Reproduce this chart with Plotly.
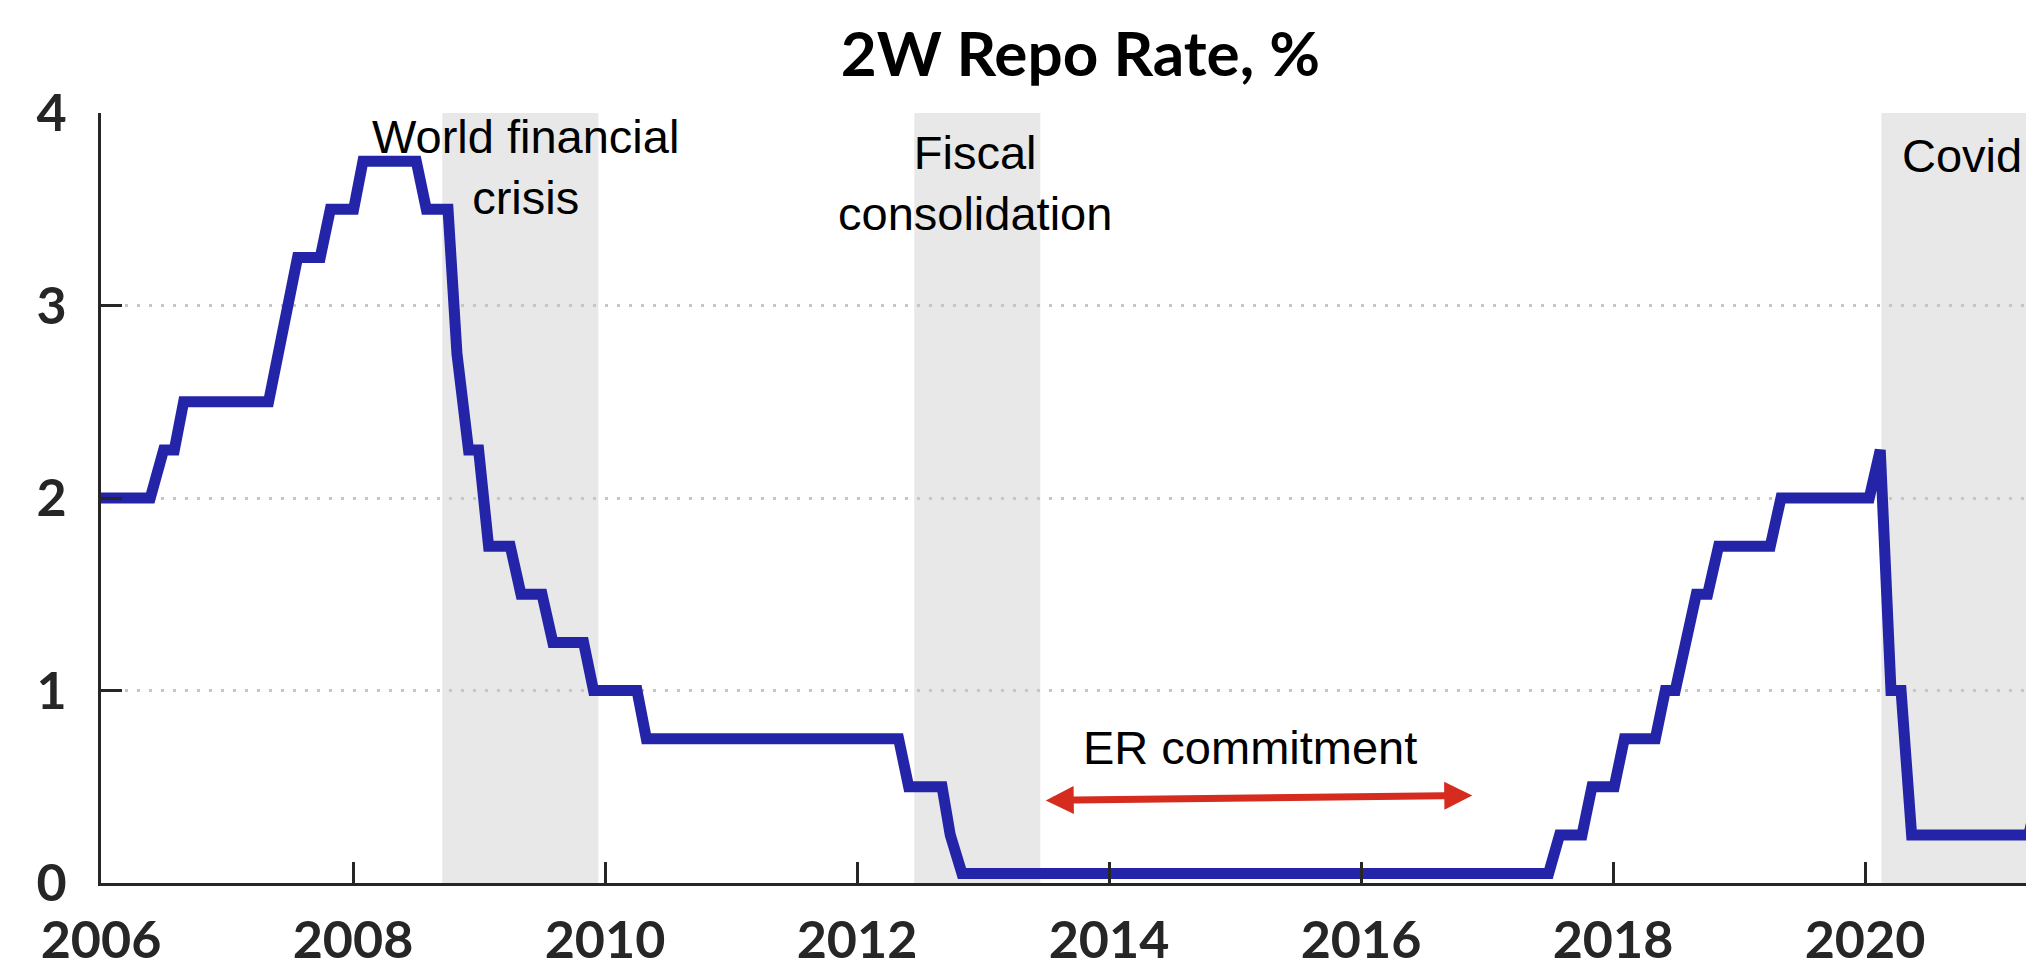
import plotly.graph_objects as go

# ---- data (decimal years, % rate) ----
rate_x = [2006.000, 2006.391, 2006.497, 2006.582, 2006.656, 2007.330, 2007.560, 2007.740,
          2007.820, 2008.005, 2008.079, 2008.502, 2008.582, 2008.754, 2008.825, 2008.917,
          2008.997, 2009.076, 2009.248, 2009.333, 2009.500, 2009.586, 2009.830, 2009.909,
          2010.254, 2010.328, 2012.330, 2012.410, 2012.675, 2012.740, 2012.833, 2017.489,
          2017.576, 2017.754, 2017.833, 2018.010, 2018.090, 2018.336, 2018.415, 2018.494,
          2018.661, 2018.751, 2018.838, 2019.248, 2019.333, 2020.034, 2020.121, 2020.206,
          2020.286, 2020.370, 2021.300, 2021.390]
rate_y = [2.00, 2.00, 2.25, 2.25, 2.50, 2.50, 3.25, 3.25,
          3.50, 3.50, 3.75, 3.75, 3.50, 3.50, 2.75, 2.25,
          2.25, 1.75, 1.75, 1.50, 1.50, 1.25, 1.25, 1.00,
          1.00, 0.75, 0.75, 0.50, 0.50, 0.25, 0.05, 0.05,
          0.25, 0.25, 0.50, 0.50, 0.75, 0.75, 1.00, 1.00,
          1.50, 1.50, 1.75, 1.75, 2.00, 2.00, 2.25, 1.00,
          1.00, 0.25, 0.25, 0.50]

shade_start = [2008.709, 2012.455, 2020.130]
shade_end = [2009.947, 2013.455, 2021.296]

label_text = ["World financial<br>crisis", "Fiscal<br>consolidation", "Covid", "ER commitment"]
label_x = [2009.368, 2012.939, 2020.772, 2015.121]
label_y = [3.72, 3.635, 3.78, 0.705]

arrow_start = (2013.486, 0.429)
arrow_end = (2016.883, 0.455)

x_ticks = [2006, 2008, 2010, 2012, 2014, 2016, 2018, 2020]
y_ticks = [0, 1, 2, 3, 4]

AX = "#262626"
fig = go.Figure()

fig.add_trace(go.Scatter(
    x=rate_x, y=rate_y, mode="lines",
    line=dict(color="#2424A8", width=11),
    hoverinfo="skip", showlegend=False,
))

for s, e in zip(shade_start, shade_end):
    fig.add_shape(type="rect", xref="x", yref="y", x0=s, x1=e, y0=0, y1=4,
                  fillcolor="#E8E8E8", line=dict(width=0), layer="below")

for t, x, y in zip(label_text, label_x, label_y):
    fig.add_annotation(x=x, y=y, xref="x", yref="y", text=t, showarrow=False,
                       xanchor="center", yanchor="middle",
                       font=dict(family="Liberation Sans, Arial", size=47, color="black"))

fig.add_annotation(x=arrow_end[0], y=arrow_end[1], ax=arrow_start[0], ay=arrow_start[1],
                   xref="x", yref="y", axref="x", ayref="y", text="",
                   showarrow=True, arrowside="end+start", arrowhead=2, startarrowhead=2,
                   arrowsize=0.8, startarrowsize=0.8, arrowwidth=7, arrowcolor="#D62B1F",
                   standoff=0, startstandoff=0)

W, H = 2026, 957
fig.update_layout(
    width=W, height=H,
    margin=dict(l=93, r=0, t=105, b=82, autoexpand=False),
    paper_bgcolor="white", plot_bgcolor="white",
    title=dict(text="2W Repo Rate, %", x=0.5067, xref="paper", xanchor="center",
               y=1 - 46 / H, yref="container", yanchor="middle",
               font=dict(family="Lato", size=62, color="black", weight="bold")),
    showlegend=False,
)

fig.update_xaxes(
    range=[2006, 2006 + 1933 / 126], tickvals=x_ticks, ticktext=[str(v) for v in x_ticks],
    showgrid=False, zeroline=False, showline=True, linecolor=AX, linewidth=3,
    ticks="inside", ticklen=21, tickwidth=3, tickcolor=AX,
    tickfont=dict(family="Lato", size=52, color=AX, weight="bold"),
    ticklabelstandoff=10,
)
fig.update_yaxes(
    range=[0, 4], tickvals=y_ticks, ticktext=[str(v) for v in y_ticks],
    showgrid=True, gridcolor="#C6C6C6", gridwidth=3, griddash="3px,9px",
    zeroline=False, showline=True, linecolor=AX, linewidth=3,
    ticks="inside", ticklen=21, tickwidth=3, tickcolor=AX,
    tickfont=dict(family="Lato", size=52, color=AX, weight="bold"),
    ticklabelstandoff=21,
)

fig.write_html("out.html")
